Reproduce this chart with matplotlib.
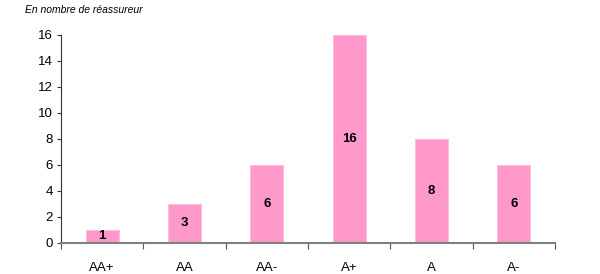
import matplotlib.pyplot as plt
import numpy as np

plt.rcParams['font.family'] = ['Liberation Sans', 'DejaVu Sans']

categories = ['AA+', 'AA', 'AA-', 'A+', 'A', 'A-']
counts = [1, 3, 6, 16, 8, 6]

fig = plt.figure(figsize=(6, 2.74), dpi=100)
ax = fig.add_axes([0.1017, 0.1142, 0.8233, 0.7581])

x = np.arange(len(categories))
bars = ax.bar(x, counts, width=0.4, color='#FF99CC', edgecolor='#FFB8DC', linewidth=0.6, zorder=2)

for b, v in zip(bars, counts):
    ax.text(b.get_x() + b.get_width() / 2, v / 2, str(v), ha='center', va='center',
            fontsize=9.5, fontweight='bold', color='black', zorder=3)

ax.set_xlim(-0.5, len(categories) - 0.5)
ax.set_ylim(0, 16)
ax.set_yticks(range(0, 17, 2))
ax.tick_params(axis='y', labelsize=9.5, length=3, width=0.8, color='#333333', pad=3)

# category labels between tick marks
ax.set_xticks(np.arange(-0.5, len(categories), 1))
ax.set_xticklabels([])
ax.set_xticks(x, minor=True)
ax.set_xticklabels(categories, minor=True, fontsize=9.5)
ax.tick_params(axis='x', which='major', length=4, width=0.8, color='#555555')
ax.tick_params(axis='x', which='minor', length=0, pad=14)

for s in ['top', 'right']:
    ax.spines[s].set_visible(False)
ax.spines['left'].set_color('#333333')
ax.spines['left'].set_linewidth(0.8)
ax.spines['bottom'].set_color('#808080')
ax.spines['bottom'].set_linewidth(1.5)

fig.text(0.042, 0.965, 'En nombre de réassureur', fontsize=7.5, style='italic', va='center')

fig.savefig('out.png', dpi=100)
